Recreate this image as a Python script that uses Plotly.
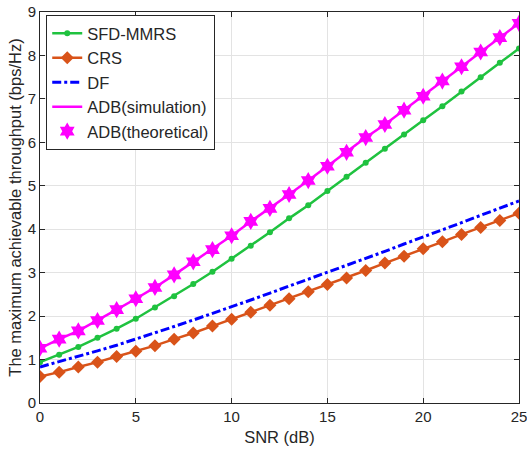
import plotly.graph_objects as go

snr = list(range(0, 26))
sfd_mmrs = [0.94, 1.11, 1.29, 1.50, 1.71, 1.94, 2.20, 2.46, 2.74, 3.02, 3.32, 3.62, 3.93,
            4.25, 4.55, 4.88, 5.21, 5.53, 5.85, 6.18, 6.51, 6.83, 7.17, 7.50, 7.83, 8.16]
crs = [0.61, 0.71, 0.83, 0.94, 1.07, 1.19, 1.32, 1.47, 1.61, 1.77, 1.93, 2.09, 2.25,
       2.40, 2.56, 2.73, 2.88, 3.05, 3.22, 3.38, 3.55, 3.71, 3.88, 4.04, 4.20, 4.37]
df = [0.83, 0.95, 1.07, 1.20, 1.33, 1.47, 1.61, 1.76, 1.91, 2.06, 2.22, 2.37, 2.53,
      2.69, 2.84, 3.00, 3.16, 3.33, 3.49, 3.66, 3.82, 3.99, 4.15, 4.32, 4.49, 4.65]
adb = [1.26, 1.47, 1.66, 1.90, 2.15, 2.40, 2.66, 2.95, 3.25, 3.53, 3.85, 4.18, 4.48,
       4.80, 5.12, 5.45, 5.77, 6.11, 6.41, 6.74, 7.06, 7.41, 7.74, 8.08, 8.41, 8.74]

GREEN = "#1FC23F"
ORANGE = "#D95319"
BLUE = "#0000FF"
MAGENTA = "#FF00FF"

fig = go.Figure()
fig.add_trace(go.Scatter(x=snr, y=sfd_mmrs, name="SFD-MMRS", mode="lines+markers",
                         line=dict(color=GREEN, width=2.5),
                         marker=dict(symbol="circle", size=6, color=GREEN)))
fig.add_trace(go.Scatter(x=snr, y=crs, name="CRS", mode="lines+markers",
                         line=dict(color=ORANGE, width=2.5),
                         marker=dict(symbol="diamond", size=10, color=ORANGE)))
fig.add_trace(go.Scatter(x=snr, y=df, name="DF", mode="lines",
                         line=dict(color=BLUE, width=3, dash="dashdot")))
fig.add_trace(go.Scatter(x=snr, y=adb, name="ADB(simulation)", mode="lines",
                         line=dict(color=MAGENTA, width=2.5)))
fig.add_trace(go.Scatter(x=snr, y=adb, name="ADB(theoretical)", mode="markers",
                         marker=dict(symbol="hexagram", size=13, color=MAGENTA)))

axis_common = dict(showline=True, linecolor="#262626", linewidth=1, mirror="ticks",
                   ticks="inside", ticklen=5, tickcolor="#262626", automargin=False,
                   ticklabeloverflow="allow",
                   showgrid=True, gridcolor="#E3E3E3", gridwidth=1, zeroline=False,
                   tickfont=dict(family="Liberation Sans, Arial", size=15, color="#262626"))

fig.update_layout(
    width=527, height=455,
    margin=dict(l=40, r=8, t=12, b=52),
    plot_bgcolor="white", paper_bgcolor="white",
    font=dict(family="Liberation Sans, Arial", size=16, color="#262626"),
    xaxis=dict(range=[0, 25], tickvals=[0, 5, 10, 15, 20, 25],
               title=dict(text="SNR (dB)", font=dict(size=16.5), standoff=7), **axis_common),
    yaxis=dict(range=[0, 9], tickvals=list(range(0, 10)),
               title=dict(text="The maximum achievable throughput (bps/Hz)", font=dict(size=16.5), standoff=1),
               **axis_common),
    legend=dict(x=0.013, y=0.992, xanchor="left", yanchor="top",
                bgcolor="white", bordercolor="#262626", borderwidth=1,
                font=dict(size=16.5), tracegroupgap=0, itemwidth=30),
    showlegend=True,
)

fig.write_html("out.html", config={"displayModeBar": False},
               post_script="document.body.style.margin='0px';")
